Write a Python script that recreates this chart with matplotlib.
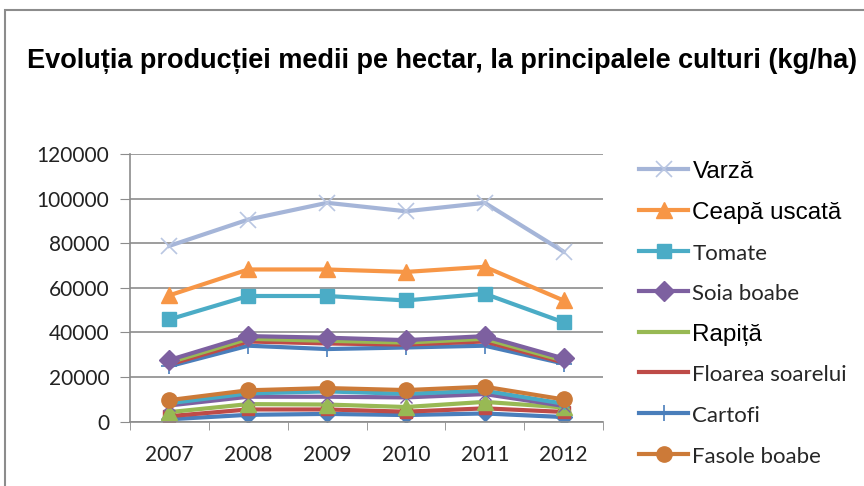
import matplotlib
matplotlib.use('Agg')
import matplotlib.pyplot as plt
from matplotlib.patches import Rectangle

years = ['2007', '2008', '2009', '2010', '2011', '2012']

# series shown in the legend
varza = [78800, 90600, 98100, 94300, 98100, 76200]
ceapa = [56600, 68200, 68200, 67100, 69400, 54300]
tomate = [45800, 56300, 56300, 54300, 57300, 44500]
soia = [27600, 38300, 37600, 36500, 38300, 28300]
rapita = [26500, 37100, 36200, 35400, 37100, 27300]
floarea = [25600, 35900, 35000, 34500, 35900, 26500]
cartofi = [24800, 34000, 32500, 33200, 34000, 26000]
fasole = [9600, 14000, 15000, 14100, 15600, 9900]

# series drawn but cut out of the legend
extra_teal = [8200, 12600, 13500, 12400, 13800, 8000]
extra_purple = [7200, 11100, 11100, 10800, 12300, 7000]
extra_green = [4200, 7800, 7600, 6500, 8800, 6300]
extra_red = [2400, 5400, 5400, 4400, 5900, 4300]
extra_blue = [1000, 3000, 3400, 2900, 3600, 2000]

x = list(range(len(years)))

fig = plt.figure(figsize=(8.64, 4.86), dpi=100)
fig.patches.append(Rectangle((5 / 864, -0.1), 1.2, 1 - 10 / 486 + 0.1,
                             transform=fig.transFigure, fill=False,
                             edgecolor='#8c8c8c', lw=1.5))
ax = fig.add_axes([130 / 864, 1 - 421.5 / 486, 473 / 864, 267.5 / 486])

lw = 3.0

ax.plot(x, extra_blue, color='#4a7ebb', lw=lw, marker='D', ms=8)
ax.plot(x, extra_red, color='#be4b48', lw=lw, marker='s', ms=8)
ax.plot(x, extra_green, color='#98b954', lw=lw, marker='^', ms=11)
ax.plot(x, extra_purple, color='#7d60a0', lw=lw, marker='x', ms=8)
ax.plot(x, extra_teal, color='#46aac5', lw=lw, marker=(6, 2, 0), ms=8)

series = [
    ('Cartofi', cartofi, '#4a7ebb', '+', 11),
    ('Floarea soarelui', floarea, '#be4b48', None, 0),
    ('Rapiță', rapita, '#98b954', None, 0),
    ('Soia boabe', soia, '#7d60a0', 'D', 10),
    ('Tomate', tomate, '#4bacc6', 's', 10),
    ('Ceapă uscată', ceapa, '#f79646', '^', 11),
    ('Varză', varza, '#a5b5d8', 'x', 11),
    ('Fasole boabe', fasole, '#cc7a38', 'o', 11),
]
handles = {}
for name, vals, col, mk, size in series:
    line, = ax.plot(x, vals, color=col, lw=lw, marker=mk, ms=size,
                    mew=1.2 if mk in ('x', '+') else 1,
                    mec='#b9c6e2' if mk == 'x' else col, label=name)
    handles[name] = line

ax.set_xlim(-0.5, 5.5)
ax.set_ylim(0, 120000)
ax.set_yticks(range(0, 120001, 20000))
ax.set_xticks(x)
ax.set_xticklabels(years)
ax.set_xticks([i + 0.5 for i in range(-1, 6)], minor=True)
ax.tick_params(axis='x', which='major', length=0, pad=17)
ax.tick_params(axis='x', which='minor', length=6, color='#8c8c8c', direction='out')
ax.tick_params(axis='y', length=7, color='#8c8c8c', direction='out', pad=8)
for lab in ax.get_xticklabels() + ax.get_yticklabels():
    lab.set_fontfamily('Lato')
    lab.set_fontsize(15)
    lab.set_color('#222222')
ax.grid(axis='y', color='#8c8c8c', lw=1.2)
ax.set_axisbelow(True)
for s in ('top', 'right'):
    ax.spines[s].set_visible(False)
for s in ('left', 'bottom'):
    ax.spines[s].set_color('#8c8c8c')
    ax.spines[s].set_linewidth(1.2)

fig.text(442 / 864, 1 - 61 / 486,
         'Evoluția producției medii pe hectar, la principalele culturi (kg/ha)',
         ha='center', va='center', fontsize=19.5, fontweight='bold',
         family='Liberation Sans')

order = ['Varză', 'Ceapă uscată', 'Tomate', 'Soia boabe', 'Rapiță',
         'Floarea soarelui', 'Cartofi', 'Fasole boabe']
leg = fig.legend([handles[n] for n in order], order, loc='upper left',
                 bbox_to_anchor=(632 / 864, 1 - 153 / 486), frameon=False,
                 fontsize=13, handlelength=2.7, handleheight=1.7,
                 labelspacing=0.9, handletextpad=0.25, borderaxespad=0)
for t in leg.get_texts():
    if t.get_text() in ('Varză', 'Ceapă uscată', 'Rapiță'):
        t.set_fontfamily('Liberation Sans')
        t.set_fontsize(17.5)
        t.set_color('black')
    else:
        t.set_fontfamily('Lato')
        t.set_fontsize(16)
        t.set_color('#262626')

fig.savefig('out.png', dpi=100)
